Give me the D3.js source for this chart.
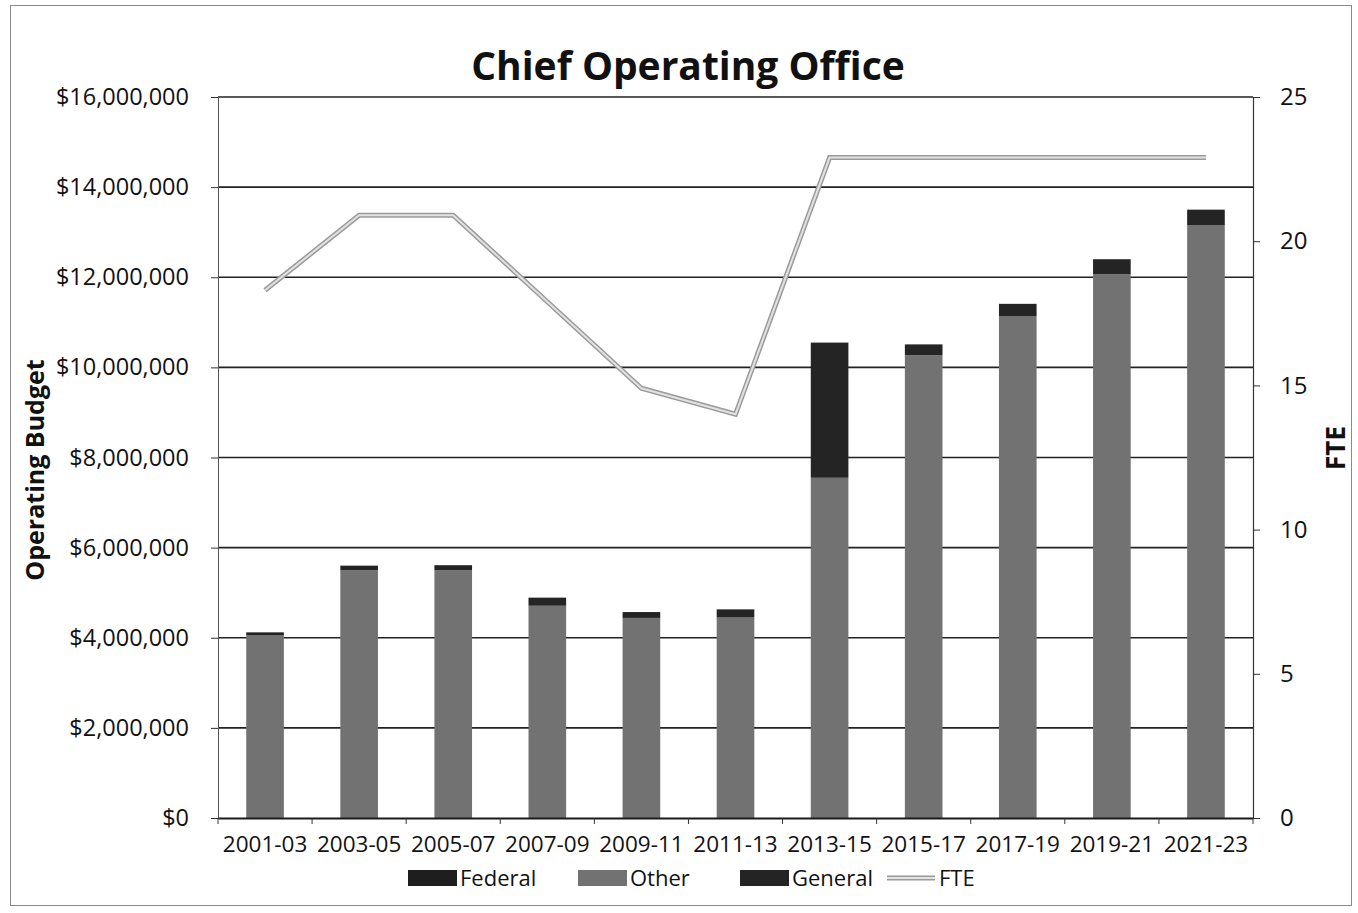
<!DOCTYPE html>
<html>
<head>
<meta charset="utf-8">
<script src="https://cdn.jsdelivr.net/npm/d3@7"></script>
<style>
  html, body { margin: 0; padding: 0; background: #fff; }
  svg { display: block; }
  text { font-family: "Open Sans", "Noto Sans", sans-serif; fill: #111; }
</style>
</head>
<body>
<svg id="chart" width="1358" height="913"></svg>
<script>
// Biennium categories
const biennia = ["2001-03", "2003-05", "2005-07", "2007-09", "2009-11", "2011-13",
                 "2013-15", "2015-17", "2017-19", "2019-21", "2021-23"];

// Operating budget by fund source (dollars)
const federalFunds = [0, 0, 0, 0, 0, 0, 0, 0, 0, 0, 0];
const otherFunds   = [4050000, 5500000, 5500000, 4710000, 4440000, 4450000,
                      7550000, 10270000, 11140000, 12070000, 13150000];
const generalFunds = [70000, 100000, 110000, 180000, 130000, 180000,
                      3000000, 240000, 270000, 330000, 350000];

// Full-time equivalent staff
const fteValues = [18.3, 20.9, 20.9, 17.9, 14.9, 14.0, 22.9, 22.9, 22.9, 22.9, 22.9];

// Axis ticks
const budgetTicks = [0, 2000000, 4000000, 6000000, 8000000, 10000000, 12000000, 14000000, 16000000];
const fteTicks = [0, 5, 10, 15, 20, 25];

const seriesNames = ["Federal", "Other", "General"];
const seriesColors = { Federal: "#1e1e1e", Other: "#727272", General: "#242424" };

const svg = d3.select("#chart");

// outer chart frame
svg.append("rect")
  .attr("x", 10.5).attr("y", 5.5).attr("width", 1341).attr("height", 900)
  .attr("fill", "none").attr("stroke", "#8a8a8a").attr("stroke-width", 1);

const plot = { left: 218, right: 1253, top: 97, bottom: 818 };

const x = d3.scaleBand().domain(biennia)
  .range([plot.left, plot.right]).paddingInner(0.6).paddingOuter(0.3);
const y = d3.scaleLinear().domain([0, 16000000]).range([plot.bottom, plot.top]);
const yR = d3.scaleLinear().domain([0, 25]).range([plot.bottom, plot.top]);

// horizontal gridlines
svg.append("g").selectAll("line")
  .data(budgetTicks.filter(d => d > 0))
  .join("line")
  .attr("x1", plot.left).attr("x2", plot.right)
  .attr("y1", d => y(d)).attr("y2", d => y(d))
  .attr("stroke", "#222").attr("stroke-width", 1.6);

// stacked bars
const rows = biennia.map((b, i) => ({
  biennium: b, Federal: federalFunds[i], Other: otherFunds[i], General: generalFunds[i]
}));
const stacked = d3.stack().keys(seriesNames)(rows);

svg.append("g").selectAll("g")
  .data(stacked)
  .join("g")
  .attr("fill", d => seriesColors[d.key])
  .selectAll("rect")
  .data(d => d)
  .join("rect")
  .attr("x", d => x(d.data.biennium))
  .attr("width", x.bandwidth())
  .attr("y", d => y(d[1]))
  .attr("height", d => Math.max(0, y(d[0]) - y(d[1])));

// left axis
const leftAxis = d3.axisLeft(y).tickValues(budgetTicks)
  .tickFormat(d => "$" + d3.format(",")(d)).tickSize(7).tickPadding(22);
const gL = svg.append("g").attr("transform", `translate(${plot.left},0)`).call(leftAxis);
gL.select(".domain").attr("stroke", "#555").attr("stroke-width", 1);
gL.selectAll(".tick line").attr("stroke", "#333");
gL.selectAll(".tick text").style("font-size", "23.5px").attr("fill", "#1a1a1a");

// right axis
const rightAxis = d3.axisRight(yR).tickValues(fteTicks).tickSize(7).tickPadding(20);
const gR = svg.append("g").attr("transform", `translate(${plot.right},0)`).call(rightAxis);
gR.select(".domain").attr("stroke", "#333").attr("stroke-width", 1.2);
gR.selectAll(".tick line").attr("stroke", "#333");
gR.selectAll(".tick text").style("font-size", "24px").attr("fill", "#1a1a1a");

// category axis
const bottomAxis = d3.axisBottom(x).tickSize(0).tickPadding(18);
const gB = svg.append("g").attr("transform", `translate(0,${plot.bottom})`).call(bottomAxis);
gB.select(".domain").attr("stroke", "#1a1a1a").attr("stroke-width", 1.8);
gB.selectAll(".tick text").style("font-size", "22.5px").attr("fill", "#1a1a1a");
// boundary tick marks between categories
const step = x.step();
const boundaries = biennia.map((b, i) => x(b) - x.paddingInner() * step / 2).concat([plot.right]);
gB.append("g").selectAll("line").data(boundaries).join("line")
  .attr("x1", d => d).attr("x2", d => d).attr("y1", 0).attr("y2", 6)
  .attr("stroke", "#333");

// FTE line: light double stroke
const line = d3.line()
  .x((d, i) => x(biennia[i]) + x.bandwidth() / 2)
  .y(d => yR(d));
svg.append("path").datum(fteValues)
  .attr("d", line).attr("fill", "none")
  .attr("stroke", "#9a9a9a").attr("stroke-width", 5).attr("stroke-linejoin", "miter");
svg.append("path").datum(fteValues)
  .attr("d", line).attr("fill", "none")
  .attr("stroke", "#e2e2e2").attr("stroke-width", 2).attr("stroke-linejoin", "miter");

// title
svg.append("text")
  .attr("x", 688).attr("y", 80).attr("text-anchor", "middle")
  .style("font-size", "39px").style("font-weight", "700")
  .text("Chief Operating Office");

// axis titles
svg.append("text")
  .attr("transform", "translate(44,470) rotate(-90)")
  .attr("text-anchor", "middle")
  .style("font-size", "25px").style("font-weight", "700")
  .text("Operating Budget");
svg.append("text")
  .attr("transform", "translate(1345,448) rotate(-90)")
  .attr("text-anchor", "middle")
  .style("font-size", "26px").style("font-weight", "700")
  .text("FTE");

// legend
const legendItems = [
  { name: "Federal", type: "bar", x: 408 },
  { name: "Other", type: "bar", x: 578 },
  { name: "General", type: "bar", x: 740 },
  { name: "FTE", type: "line", x: 887 }
];
const lg = svg.append("g").attr("transform", "translate(0,878)");
legendItems.forEach(it => {
  if (it.type === "bar") {
    lg.append("rect").attr("x", it.x).attr("y", -8).attr("width", 49).attr("height", 16)
      .attr("fill", seriesColors[it.name]);
  } else {
    lg.append("line").attr("x1", it.x).attr("x2", it.x + 48).attr("y1", 0).attr("y2", 0)
      .attr("stroke", "#9a9a9a").attr("stroke-width", 5);
    lg.append("line").attr("x1", it.x).attr("x2", it.x + 48).attr("y1", 0).attr("y2", 0)
      .attr("stroke", "#e2e2e2").attr("stroke-width", 2);
  }
  lg.append("text").attr("x", it.x + 52).attr("y", 0).attr("dy", "0.35em")
    .style("font-size", "22px").text(it.name);
});
</script>
</body>
</html>
